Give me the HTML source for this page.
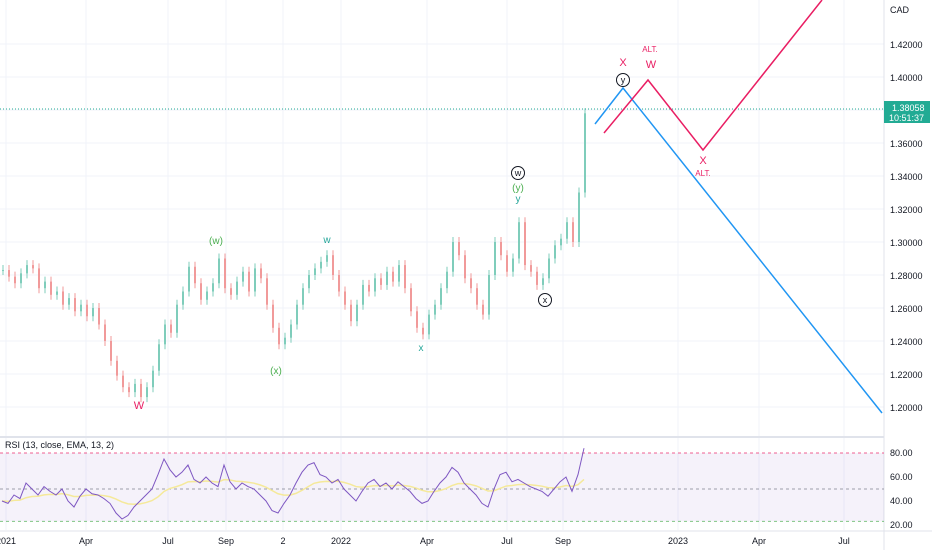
<!DOCTYPE html>
<html><head><meta charset="utf-8"><style>
html,body{margin:0;padding:0;background:#fff;}
svg{display:block;font-family:"Liberation Sans",sans-serif;}
</style></head><body>
<svg id="c" width="932" height="550" viewBox="0 0 932 550"></svg>
<script>
const closes=[1.283,1.279,1.275,1.281,1.286,1.284,1.272,1.276,1.268,1.270,1.262,1.266,1.258,1.262,1.255,1.260,1.250,1.240,1.228,1.219,1.212,1.209,1.214,1.206,1.212,1.222,1.238,1.250,1.245,1.262,1.270,1.285,1.275,1.265,1.270,1.275,1.290,1.272,1.268,1.276,1.282,1.270,1.284,1.278,1.262,1.248,1.238,1.242,1.250,1.262,1.272,1.280,1.284,1.288,1.292,1.280,1.270,1.262,1.252,1.262,1.274,1.270,1.278,1.274,1.282,1.276,1.286,1.272,1.258,1.248,1.244,1.256,1.262,1.272,1.282,1.300,1.292,1.278,1.272,1.262,1.256,1.280,1.300,1.292,1.282,1.290,1.312,1.286,1.282,1.274,1.278,1.290,1.298,1.302,1.312,1.300,1.330,1.378];
const rsi=[40,38,45,42,55,50,45,52,48,45,50,40,35,44,50,46,45,42,38,30,25,28,35,40,45,50,62,75,66,60,64,70,58,55,60,55,52,70,56,50,55,52,50,45,40,32,30,38,45,55,64,70,72,62,60,55,58,50,45,40,48,55,58,52,55,50,56,52,48,42,38,40,48,55,60,68,64,55,50,45,38,35,50,62,64,56,58,55,52,50,48,44,50,56,60,48,62,84];
const priceTicks=[1.20,1.22,1.24,1.26,1.28,1.30,1.32,1.34,1.36,1.38,1.40,1.42];
const rsiTicks=[80,60,40,20];
const timeLabels=["2021","Apr","Jul","Sep","2","2022","Apr","Jul","Sep","2023","Apr","Jul"];
const timePos=[6,86,168,226,283,341,427,507,563,678,759,844];
const NS="http://www.w3.org/2000/svg";
const svg=document.getElementById('c');
const py=p=>77+(1.40-p)*1650;
const ry=v=>453+(80-v)*1.2;
const bx=i=>2+i*6;
function el(t,a,name,txt){const e=document.createElementNS(NS,t);for(const k in a)e.setAttribute(k,a[k]);


if(txt!==undefined)e.textContent=txt;svg.appendChild(e);return e;}
priceTicks.forEach(p=>{if(py(p)>5&&py(p)<435){el('line',{x1:0,x2:884,y1:py(p),y2:py(p),stroke:'#f0f3fa'},'price-gridline');
el('text',{x:890,y:py(p)+4,'font-size':9,fill:'#131722'},'price-tick-label',p.toFixed(5));}});
timePos.forEach((x,i)=>{el('line',{x1:x,x2:x,y1:0,y2:530,stroke:'#f0f3fa'},'time-gridline');
el('text',{x:x,y:544,'font-size':9,fill:'#131722','text-anchor':'middle'},'time-tick-label',timeLabels[i]);});
el('text',{x:890,y:13,'font-size':9,fill:'#131722'},'currency-label','CAD');
el('line',{x1:884,x2:884,y1:0,y2:550,stroke:'#e0e3eb'},'price-axis-border');
el('line',{x1:0,x2:884,y1:437,y2:437,stroke:'#e0e3eb','stroke-width':2},'pane-separator');
el('line',{x1:0,x2:932,y1:531,y2:531,stroke:'#e0e3eb'},'time-axis-border');
closes.forEach((c,i)=>{const o=i?closes[i-1]:c;const up=c>=o;const col=up?'#7fcdbb':'#f19a9a';
const y1=py(Math.max(o,c)),y2=py(Math.min(o,c));
el('line',{x1:bx(i)+1,x2:bx(i)+1,y1:y1-5,y2:y2+5,stroke:col,'stroke-width':1},'candle-wick');
el('rect',{x:bx(i),y:y1,width:2,height:Math.max(1,y2-y1),fill:col},'candle');});
el('line',{x1:0,x2:884,y1:109,y2:109,stroke:'#22ab94','stroke-dasharray':'1 2'},'last-price-line');
el('rect',{x:884,y:101,width:46,height:22,fill:'#22ab94'},'last-price-badge');
el('text',{x:892,y:111,'font-size':9,fill:'#fff'},'last-price-value','1.38058');
el('text',{x:889,y:121,'font-size':9,fill:'#fff'},'countdown','10:51:37');
el('polyline',{points:'595,124 623,88 882,413',fill:'none',stroke:'#2196f3','stroke-width':1.5},'wave-projection-blue');
el('polyline',{points:'604,133 648,80 703,150 822,0',fill:'none',stroke:'#e91e63','stroke-width':1.5},'wave-projection-alt');
const L=[['X',623,66,'#e91e63',11],['ALT.',650,52,'#e91e63',8],['W',651,68,'#e91e63',11],['X',703,164,'#e91e63',11],['ALT.',703,176,'#e91e63',8],
['(y)',518,191,'#4caf50',10],['y',518,202,'#26a69a',10],['(w)',216,244,'#4caf50',10],['w',327,243,'#26a69a',10],['(x)',276,374,'#4caf50',10],['x',421,351,'#26a69a',10],['W',139,409,'#e91e63',11]];
L.forEach(a=>el('text',{x:a[1],y:a[2],fill:a[3],'font-size':a[4],'text-anchor':'middle'},'wave-label',a[0]));
[['w',518,173],['y',623,80],['x',545,300]].forEach(a=>{el('circle',{cx:a[1],cy:a[2],r:6.5,fill:'#fff',stroke:'#131722'},'wave-circle');
el('text',{x:a[1],y:a[2]+3,'font-size':9,'text-anchor':'middle',fill:'#131722'},'wave-circle-label',a[0]);});
el('rect',{x:0,y:ry(80),width:884,height:ry(23)-ry(80),fill:'#7e57c2','fill-opacity':0.08},'rsi-band');
[[80,'#e91e63'],[50,'#787b86'],[23,'#4caf50']].forEach(a=>el('line',{x1:0,x2:884,y1:ry(a[0]),y2:ry(a[0]),stroke:a[1],'stroke-dasharray':'3 3','stroke-opacity':0.7},'rsi-level-line'));
rsiTicks.forEach(v=>el('text',{x:890,y:ry(v)+3,'font-size':9,fill:'#131722'},'rsi-tick-label',v.toFixed(2)));
let ema=[],k=2/14;rsi.forEach((v,i)=>ema.push(i?ema[i-1]+k*(v-ema[i-1]):v));
el('polyline',{points:ema.map((v,i)=>bx(i)+','+ry(v)).join(' '),fill:'none',stroke:'#f5e99a','stroke-width':1.5},'rsi-signal-line');
el('polyline',{points:rsi.map((v,i)=>bx(i)+','+ry(v)).join(' '),fill:'none',stroke:'#7e57c2','stroke-width':1},'rsi-line');
el('text',{x:5,y:448,'font-size':9,fill:'#131722'},'rsi-title','RSI (13, close, EMA, 13, 2)');
</script>
</body></html>
